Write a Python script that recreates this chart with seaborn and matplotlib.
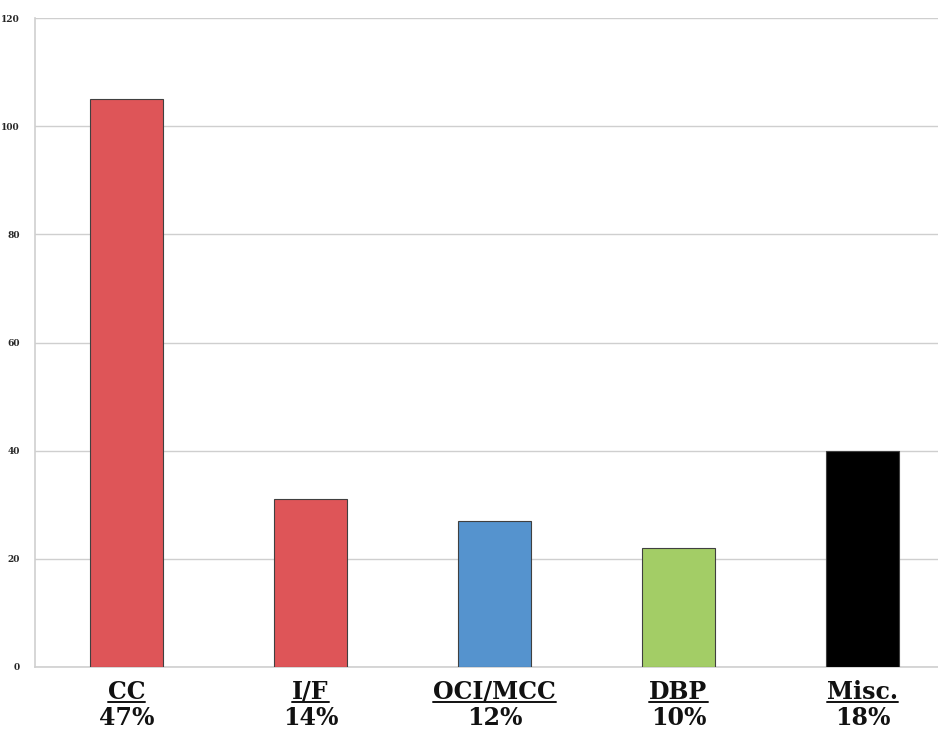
import matplotlib
matplotlib.use("Agg")
import matplotlib.pyplot as plt
from matplotlib.lines import Line2D
import seaborn as sns
import pandas as pd

categories = ["CC", "I/F", "OCI/MCC", "DBP", "Misc."]
counts = [105, 31, 27, 22, 40]
shares = ["47%", "14%", "12%", "10%", "18%"]
colors = ["#DE5558", "#DE5558", "#5593CE", "#A3CD66", "#000000"]
y_ticks = [0, 20, 40, 60, 80, 100, 120]

sns.set_theme(style="white")
plt.rcParams["font.family"] = ["DejaVu Serif"]

df = pd.DataFrame({"category": categories, "count": counts})

fig = plt.figure(figsize=(9.38, 7.31), dpi=100)
ax = fig.add_axes([35 / 938, 1 - 667 / 731, 1 - 35 / 938, (667 - 18) / 731])

sns.barplot(data=df, x="category", y="count", hue="category",
            palette=colors, saturation=1, width=0.4, edgecolor="#404040",
            linewidth=0.8, legend=False, ax=ax, zorder=3)

ax.set_ylim(0, 120)
ax.set_xlim(-0.497, 4.41)
ax.set_yticks(y_ticks)
ax.set_yticklabels([str(t) for t in y_ticks], fontsize=6.5, fontweight="bold")
ax.yaxis.grid(True, color="#CFCFCF", linewidth=1.0, zorder=0)
ax.set_xticks(range(len(categories)))
ax.set_xticklabels([])
ax.tick_params(axis="x", length=0)
ax.tick_params(axis="y", length=4, width=1, color="#CFCFCF", direction="out", pad=7)
ax.set_xlabel("")
ax.set_ylabel("")
for side in ["top", "right"]:
    ax.spines[side].set_visible(False)
ax.spines["left"].set_color("#CFCFCF")
ax.spines["left"].set_linewidth(1.2)
ax.spines["bottom"].set_color("#CFCFCF")
ax.spines["bottom"].set_linewidth(1.2)

# Two-line category labels: underlined name above its share
trans = ax.get_xaxis_transform()
name_texts = []
for i, (name, share) in enumerate(zip(categories, shares)):
    t = ax.text(i, -0.038, name, transform=trans, ha="center", va="center",
                fontsize=17, fontweight="bold", color="#111111")
    name_texts.append(t)
    ax.text(i, -0.079, share, transform=trans, ha="center", va="center",
            fontsize=17, fontweight="bold", color="#111111")

fig.canvas.draw()
renderer = fig.canvas.get_renderer()
inv = fig.transFigure.inverted()
for t in name_texts:
    bb = t.get_window_extent(renderer)
    (x0, y0), (x1, _) = inv.transform([[bb.x0, bb.y0], [bb.x1, bb.y1]])
    fig.add_artist(Line2D([x0, x1], [y0 + 0.002, y0 + 0.002], transform=fig.transFigure,
                          color="#111111", linewidth=1.4))

fig.savefig("out.png", dpi=100)
